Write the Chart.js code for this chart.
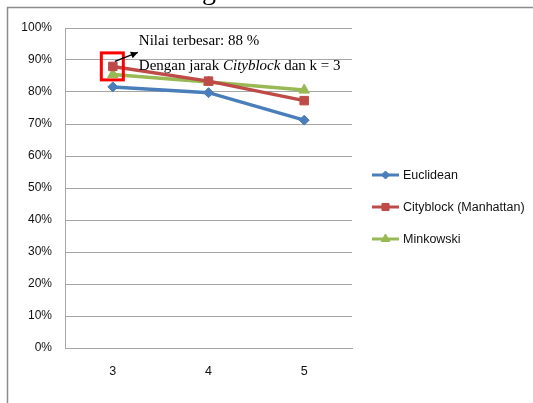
<!DOCTYPE html>
<html><head><meta charset="utf-8">
<script src="https://cdn.jsdelivr.net/npm/chart.js@4"></script>
<style>html,body{margin:0;padding:0;background:#fff;}#wrap{width:533px;height:403px;position:relative;}</style>
</head><body><div id="wrap"><canvas id="c" width="533" height="403"></canvas></div>
<script>
const categories = ["3", "4", "5"];
const euclidean = [81.6, 79.8, 71.2];
const cityblock = [88, 83.4, 77.3];
const minkowski = [85.5, 83.1, 80.6];
const yTicks = [0,10,20,30,40,50,60,70,80,90,100];
const seriesNames = ["Euclidean", "Cityblock (Manhattan)", "Minkowski"];
const annoLine1 = "Nilai terbesar: 88 %";
const annoLine2a = "Dengan jarak ";
const annoLine2b = "Cityblock";
const annoLine2c = " dan k = 3";

const colors = ["#4a7ebb", "#be4b48", "#98b954"];
const styles = ["rectRot", "rect", "triangle"];
const radii = [5, 6, 6];

const framePlugin = {
  id: 'frame',
  beforeDraw(chart) {
    const ctx = chart.ctx;
    ctx.save();
    ctx.fillStyle = '#fff';
    ctx.fillRect(0,0,chart.width,chart.height);
    ctx.strokeStyle = '#8c8c8c';
    ctx.lineWidth = 1.5;
    ctx.beginPath();
    ctx.moveTo(7.5, chart.height);
    ctx.lineTo(7.5, 7.5);
    ctx.lineTo(chart.width, 7.5);
    ctx.stroke();
    // cut-off title descender
    ctx.fillStyle = '#000';
    ctx.font = '28px "Liberation Serif"';
    ctx.textBaseline = 'alphabetic';
    ctx.fillText('g', 202, -1);
    ctx.restore();
  }
};

const overlayPlugin = {
  id: 'overlay',
  afterDatasetsDraw(chart) {
    const ctx = chart.ctx;
    const xs = chart.scales.x, ys = chart.scales.y;
    const px = xs.getPixelForValue(0);
    const py = ys.getPixelForValue(cityblock[0]);
    ctx.save();
    ctx.strokeStyle = '#ff0000';
    ctx.lineWidth = 3;
    ctx.strokeRect(px - 11.5, py - 13.5, 22, 27);
    const sx = px + 2, sy = py - 5, tx = px + 25, ty = py - 14;
    ctx.strokeStyle = '#000';
    ctx.fillStyle = '#000';
    ctx.lineWidth = 1.5;
    ctx.beginPath(); ctx.moveTo(sx, sy); ctx.lineTo(tx, ty); ctx.stroke();
    const ang = Math.atan2(ty - sy, tx - sx);
    ctx.beginPath();
    ctx.moveTo(tx, ty);
    ctx.lineTo(tx - 7*Math.cos(ang) + 3.5*Math.sin(ang), ty - 7*Math.sin(ang) - 3.5*Math.cos(ang));
    ctx.lineTo(tx - 7*Math.cos(ang) - 3.5*Math.sin(ang), ty - 7*Math.sin(ang) + 3.5*Math.cos(ang));
    ctx.closePath(); ctx.fill();
    const textX = px + 26;
    ctx.textBaseline = 'alphabetic';
    ctx.font = '15px "Liberation Serif"';
    ctx.fillText(annoLine1, textX, py - 21);
    let x = textX;
    const y2 = py + 4;
    ctx.fillText(annoLine2a, x, y2); x += ctx.measureText(annoLine2a).width;
    ctx.font = 'italic 15px "Liberation Serif"';
    ctx.fillText(annoLine2b, x, y2); x += ctx.measureText(annoLine2b).width;
    ctx.font = '15px "Liberation Serif"';
    ctx.fillText(annoLine2c, x, y2);

    const legY = [175, 207, 239];
    chart.data.datasets.forEach((ds, i) => {
      const y = legY[i];
      ctx.strokeStyle = ds.borderColor;
      ctx.lineWidth = 3;
      ctx.beginPath(); ctx.moveTo(372, y); ctx.lineTo(399, y); ctx.stroke();
      ctx.fillStyle = ds.borderColor;
      ctx.strokeStyle = ds.borderColor;
      ctx.lineWidth = 1;
      Chart.helpers.drawPoint(ctx, {pointStyle: ds.pointStyle, radius: ds.pointRadius - 1, borderWidth: 1, rotation: 0}, 385.5, y);
      ctx.fillStyle = '#111';
      ctx.font = '12.5px "Liberation Sans"';
      ctx.textBaseline = 'middle';
      ctx.fillText(ds.label, 403, y + 1);
    });
    ctx.restore();
  }
};

const datasets = [euclidean, cityblock, minkowski].map((d, i) => ({
  label: seriesNames[i],
  data: d,
  borderColor: colors[i],
  backgroundColor: colors[i],
  pointStyle: styles[i],
  pointRadius: radii[i],
  pointBorderWidth: 1,
  borderWidth: 3.5,
  tension: 0
}));

new Chart(document.getElementById('c'), {
  type: 'line',
  data: { labels: categories, datasets },
  plugins: [framePlugin, overlayPlugin],
  options: {
    responsive: false,
    animation: false,
    devicePixelRatio: 1,
    layout: { padding: { left: 0, right: 181, top: 28, bottom: 0 } },
    plugins: { legend: { display: false }, tooltip: { enabled: false }, title: { display: false } },
    scales: {
      x: {
        offset: true,
        grid: { display: false, drawTicks: false },
        border: { display: true, color: '#a6a6a6', width: 1 },
        ticks: { color: '#111', font: { family: 'Liberation Sans', size: 12.5 }, padding: 16 },
        afterFit(s) { s.height = 55; }
      },
      y: {
        min: 0, max: 100,
        afterBuildTicks(s) { s.ticks = yTicks.map(v => ({ value: v })); },
        grid: { color: '#a6a6a6', drawTicks: false, lineWidth: 1 },
        border: { display: true, color: '#a6a6a6', width: 1 },
        ticks: { color: '#111', font: { family: 'Liberation Sans', size: 12 }, padding: 13, callback: v => v + '%' },
        afterFit(s) { s.width = 65; }
      }
    }
  }
});
</script></body></html>
